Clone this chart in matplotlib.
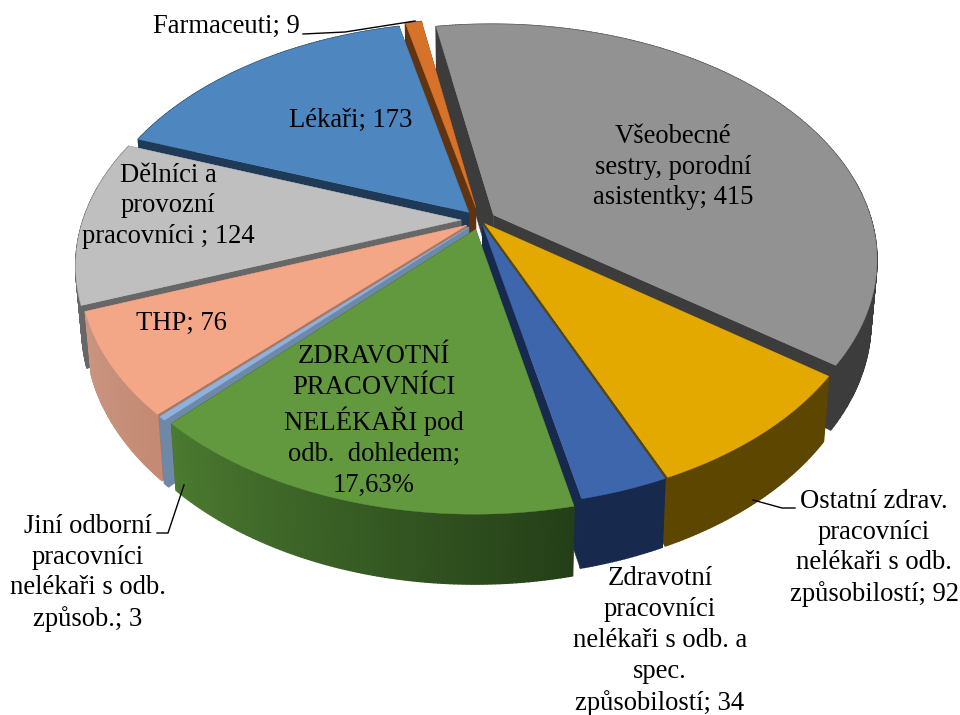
import numpy as np
import matplotlib
matplotlib.use("Agg")
import matplotlib.pyplot as plt
from matplotlib.patches import Polygon
from matplotlib.colors import to_rgb

# ----------------------------------------------------------------------
# Data (clockwise from the first slice)
# ----------------------------------------------------------------------
names = ["sestry", "ostatni", "zdrav_spec", "dohled", "jini", "thp",
         "delnici", "lekari", "farm"]
values = [415, 92, 34, 170, 3, 76, 124, 173, 9]

top_colors = ["#929292", "#e4a900", "#3d66ad", "#62993f", "#8eb1de",
              "#f4a786", "#bfbfbf", "#4e87c0", "#d6722a"]
cut_colors = ["#3c3c3c", "#5c4600", "#172a4d", "#274016", "#6e88a8",
              "#a97762", "#676767", "#1f3a57", "#61330f"]
# outer wall colour is interpolated between these two along the arc
wall_start = ["#3c3c3c", "#5c4600", "#172a4d", "#243f18", "#6e88a8",
              "#c48a73", "#676767", "#1f3a57", "#61330f"]
wall_end = ["#3c3c3c", "#5c4600", "#172a4d", "#4b7a30", "#6e88a8",
            "#c99580", "#676767", "#1f3a57", "#61330f"]

# how far each slice is pulled out of the pie
explode = [0.042, 0.02, 0.02, 0.042, 0.042, 0.042, 0.05, 0.045, 0.055]

# painter's order, back to front
draw_order = [0, 8, 7, 6, 1, 5, 2, 4, 3]

# ----------------------------------------------------------------------
# Projection of the disc into pixel space
# ----------------------------------------------------------------------
START = -10.0
CX, CY = 480.0, 220.0
A, B = 378.0, 228.0
P = 0.186
DEPTH = 60.0
SHRINK = 0.985


def project(X, Y, bottom=False):
    s = 1.0 / (1.0 + P * Y)
    px = A * X * s
    py = B * Y * s
    if bottom:
        return CX + px * SHRINK, CY - py * SHRINK + DEPTH * s
    return CX + px, CY - py


def add_poly(ax, xs, ys, color, z, lw=0.3):
    ax.add_patch(Polygon(np.column_stack([xs, ys]), closed=True, fc=color,
                         ec=color, lw=lw, zorder=z))


def draw_slice(ax, a0, a1, e, top, cut, w0, w1, z):
    mid = np.radians((a0 + a1) / 2)
    ox, oy = e * np.sin(mid), e * np.cos(mid)
    th = np.radians(np.linspace(a0, a1, max(int(a1 - a0) * 2, 4)))
    X = ox + np.sin(th)
    Y = oy + np.cos(th)

    tx, ty = project(X, Y)
    bx, by = project(X, Y, bottom=True)
    t0x, t0y = project(ox, oy)
    b0x, b0y = project(ox, oy, bottom=True)

    # cut faces
    add_poly(ax, [t0x, tx[0], bx[0], b0x], [t0y, ty[0], by[0], b0y], cut, z)
    add_poly(ax, [t0x, tx[-1], bx[-1], b0x], [t0y, ty[-1], by[-1], b0y], cut, z)

    # outer wall, strip by strip so it can carry a gradient
    c0, c1 = np.array(to_rgb(w0)), np.array(to_rgb(w1))
    for i in range(len(th) - 1):
        f = i / max(len(th) - 2, 1)
        add_poly(ax, [tx[i], tx[i + 1], bx[i + 1], bx[i]],
                 [ty[i], ty[i + 1], by[i + 1], by[i]],
                 tuple(c0 + (c1 - c0) * f), z + 0.1, lw=1.0)

    # top face
    add_poly(ax, np.r_[t0x, tx], np.r_[t0y, ty], top, z + 0.2)


fig = plt.figure(figsize=(9.6, 7.15), dpi=100)
ax = fig.add_axes([0, 0, 1, 1])
ax.set_xlim(0, 960)
ax.set_ylim(715, 0)
ax.axis("off")

edges = START + np.r_[0, np.cumsum(values)] / np.sum(values) * 360.0
for rank, i in enumerate(draw_order):
    draw_slice(ax, edges[i], edges[i + 1], explode[i], top_colors[i],
               cut_colors[i], wall_start[i], wall_end[i], 2 + rank)

# ----------------------------------------------------------------------
# Labels and leader lines
# ----------------------------------------------------------------------
labels = [
    (673, 167, "Všeobecné\nsestry, porodní\nasistentky; 415"),
    (351, 120, "Lékaři; 173"),
    (226, 26, "Farmaceuti; 9"),
    (168, 206, "Dělníci a\nprovozní\npracovníci ; 124"),
    (181, 323, "THP; 76"),
    (374, 421, "ZDRAVOTNÍ\nPRACOVNÍCI\nNELÉKAŘI pod\nodb.  dohledem;\n17,63%"),
    (88, 573, "Jiní odborní\npracovníci\nnelékaři s odb.\nzpůsob.; 3"),
    (874, 548, "Ostatní zdrav.\npracovníci\nnelékaři s odb.\nzpůsobilostí; 92"),
    (660, 641, "Zdravotní\npracovníci\nnelékaři s odb. a\nspec.\nzpůsobilostí; 34"),
]
for x, y, s in labels:
    ax.text(x, y, s, ha="center", va="center", family="Liberation Serif",
            fontsize=19.2, linespacing=1.3, color="black", zorder=30)

leaders = [
    ([303, 345, 415], [34, 32, 21]),
    ([157, 168, 184], [533, 533, 485]),
    ([753, 782, 795], [500, 508, 508]),
]
for lx, ly in leaders:
    ax.plot(lx, ly, color="black", lw=1.0, zorder=25)

fig.savefig("out.png", dpi=100)
